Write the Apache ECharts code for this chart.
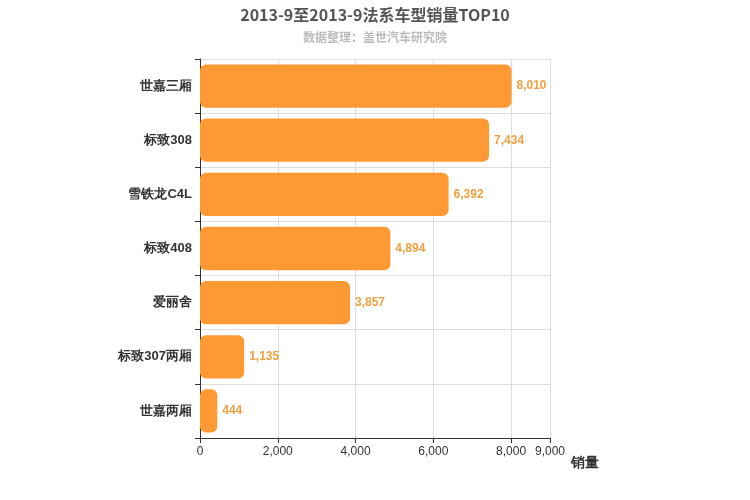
<!DOCTYPE html>
<html><head><meta charset="utf-8">
<script src="https://cdn.jsdelivr.net/npm/echarts@6/dist/echarts.min.js"></script>
<style>html,body{margin:0;padding:0}#c{width:750px;height:500px}</style>
</head><body><div id="c"></div>
<script>
const categories = ['世嘉三厢','标致308','雪铁龙C4L','标致408','爱丽舍','标致307两厢','世嘉两厢'];
const values = [8010,7434,6392,4894,3857,1135,444];
const chart = echarts.init(document.getElementById('c'));
chart.setOption({
  animation:false,
  title:{text:'2013-9至2013-9法系车型销量TOP10',subtext:'数据整理：盖世汽车研究院',left:'center',top:2,
    textStyle:{fontSize:16,fontWeight:'bold',color:'#555',fontFamily:'Noto Sans CJK SC'},
    subtextStyle:{fontSize:12,fontWeight:'bold',color:'#bbb',fontFamily:'Noto Sans CJK SC'},itemGap:8},
  grid:{left:200,right:200,top:59,bottom:62},
  xAxis:{type:'value',min:0,max:9000,interval:2000,name:'销量',nameGap:15,
    nameTextStyle:{fontSize:14,fontWeight:'bold',color:'#333',verticalAlign:'top',padding:[18,0,0,0]},
    axisLine:{show:true,lineStyle:{color:'#333'}},axisTick:{show:true},
    axisLabel:{color:'#333',fontSize:12,showMaxLabel:true},
    splitLine:{show:true,lineStyle:{color:'#ddd'}}},
  yAxis:{type:'category',data:categories.slice().reverse(),inverse:false,
    axisLine:{lineStyle:{color:'#333'}},axisTick:{show:true},
    axisLabel:{color:'#333',fontSize:13,fontWeight:'bold'},
    splitLine:{show:true,lineStyle:{color:'#ddd'}}},
  series:[{type:'bar',data:values.slice().reverse(),barWidth:'80%',
    itemStyle:{color:'#ff9933',borderRadius:6},
    label:{show:true,position:'right',color:'#f0a040',fontSize:12,fontWeight:'bold',
      formatter:p=>p.value.toLocaleString('en-US')}}]
});
</script></body></html>
